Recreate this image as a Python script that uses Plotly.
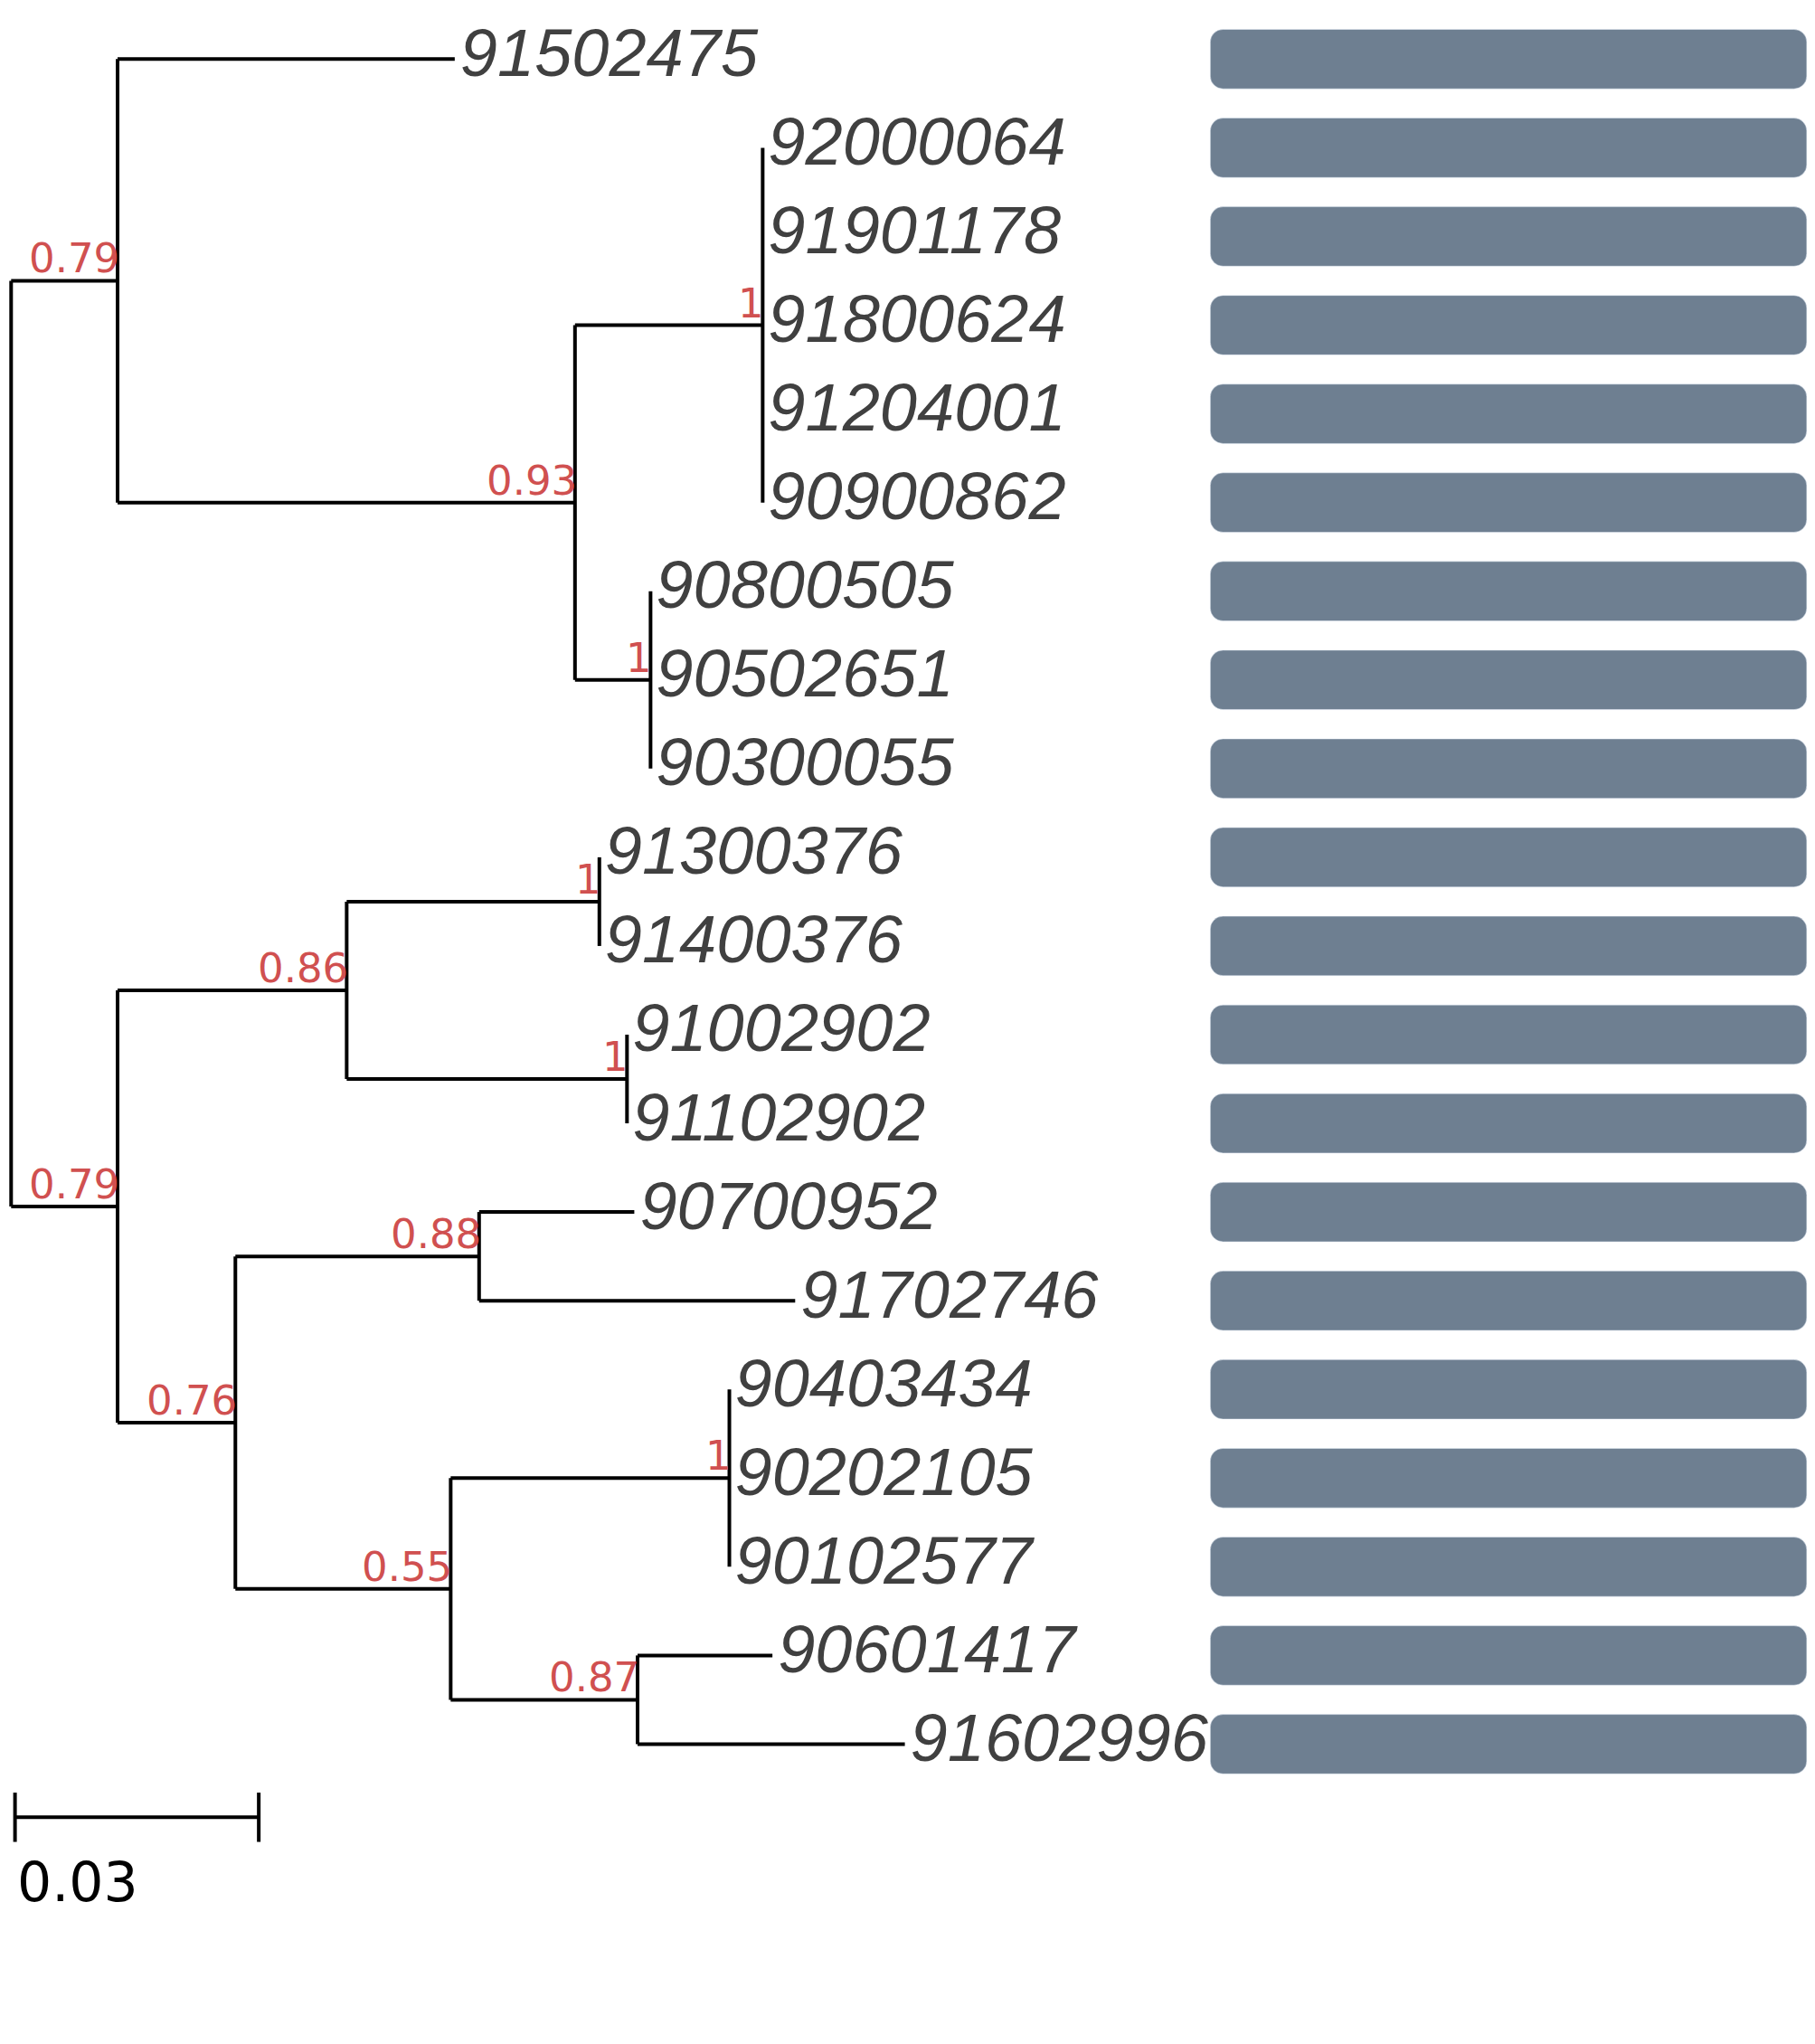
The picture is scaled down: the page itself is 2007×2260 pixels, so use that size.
import plotly.graph_objects as go

# tree: (name, branch_length, support, children)
tree = ("root", 0.0, None, [
    ("A", 0.0131, 0.79, [
        ("91502475", 0.0415, None, []),
        ("N93", 0.0563, 0.93, [
            ("N1a", 0.0231, 1, [
                ("92000064", 0.0, None, []), ("91901178", 0.0, None, []),
                ("91800624", 0.0, None, []), ("91204001", 0.0, None, []),
                ("90900862", 0.0, None, [])]),
            ("N1b", 0.0093, 1, [
                ("90800505", 0.0, None, []), ("90502651", 0.0, None, []),
                ("90300055", 0.0, None, [])]),
        ]),
    ]),
    ("B", 0.0131, 0.79, [
        ("N86", 0.0282, 0.86, [
            ("Nx", 0.0311, 1, [("91300376", 0.0, None, []), ("91400376", 0.0, None, [])]),
            ("Ny", 0.0345, 1, [("91002902", 0.0, None, []), ("91102902", 0.0, None, [])]),
        ]),
        ("N76", 0.0145, 0.76, [
            ("N88", 0.0300, 0.88, [
                ("90700952", 0.0191, None, []), ("91702746", 0.0389, None, [])]),
            ("N55", 0.0265, 0.55, [
                ("N1c", 0.0343, 1, [
                    ("90403434", 0.0, None, []), ("90202105", 0.0, None, []),
                    ("90102577", 0.0, None, [])]),
                ("N87", 0.0230, 0.87, [
                    ("90601417", 0.0166, None, []), ("91602996", 0.0329, None, [])]),
            ]),
        ]),
    ]),
])
bar_values = [1] * 20
scale_len = 0.03

PX = 6267.0 * 1.4336  # full px per branch unit
lines_x, lines_y = [], []
leaves = []   # (name, x, y)
supports = []  # (text, x, y)


def layout(node, x0):
    name, bl, sup, kids = node
    x = x0 + bl
    if not kids:
        y = len(leaves)
        leaves.append((name, x, y))
    else:
        ys = [layout(k, x) for k in kids]
        y = sum([ys[0], ys[-1]]) / 2
        lines_x.extend([x, x, None]); lines_y.extend([ys[0], ys[-1], None])
        if sup is not None:
            supports.append(("%g" % sup, x, y))
    lines_x.extend([x0, x, None]); lines_y.extend([y, y, None])
    return y


layout(tree, 0.0)

fig = go.Figure()
fig.add_trace(go.Scatter(x=lines_x, y=lines_y, mode="lines",
                         line=dict(color="black", width=4), hoverinfo="skip"))
fig.add_trace(go.Scatter(x=[l[1] + 6 / PX for l in leaves], y=[l[2] for l in leaves],
                         text=[l[0] for l in leaves], mode="text", textposition="middle right",
                         textfont=dict(family="Liberation Sans", size=74, color="#404040", style="italic")))
for t, x, y in supports:
    fig.add_annotation(x=x, y=y, text=t, showarrow=False, xanchor="right", yanchor="bottom",
                       xshift=4, yshift=-4,
                       font=dict(family="DejaVu Sans", size=45, color="#d05050"))
fig.add_trace(go.Bar(x=bar_values, y=[l[2] for l in leaves], orientation="h", base=0,
                     width=0.67, marker=dict(color="#6e7f91", cornerradius=14),
                     xaxis="x2", hoverinfo="skip"))

# scale bar
x0 = 3 / 6267.0
ysb = (1396 - 40) / 68.4
tk = 19 / 68.4
fig.add_trace(go.Scatter(x=[x0, x0 + scale_len, None, x0, x0, None, x0 + scale_len, x0 + scale_len],
                         y=[ysb, ysb, None, ysb - tk, ysb + tk, None, ysb - tk, ysb + tk],
                         mode="lines", line=dict(color="black", width=4), hoverinfo="skip"))
fig.add_annotation(x=x0, y=ysb + 0.73, text=str(scale_len), showarrow=False, xanchor="left",
                   font=dict(family="DejaVu Sans", size=60, color="black"))

W = 2007 / 1.4336
fig.update_layout(
    width=2007, height=2260, margin=dict(l=0, r=0, t=0, b=0),
    plot_bgcolor="white", paper_bgcolor="white", showlegend=False,
    xaxis=dict(range=[-3 / 6267.0, (W - 3) / 6267.0], visible=False),
    xaxis2=dict(range=[-2.017, 1.026], overlaying="x", visible=False),
    yaxis=dict(range=[(2260 / 1.4336 - 40) / 68.4, -40 / 68.4], visible=False),
)
fig.write_html("out.html")
